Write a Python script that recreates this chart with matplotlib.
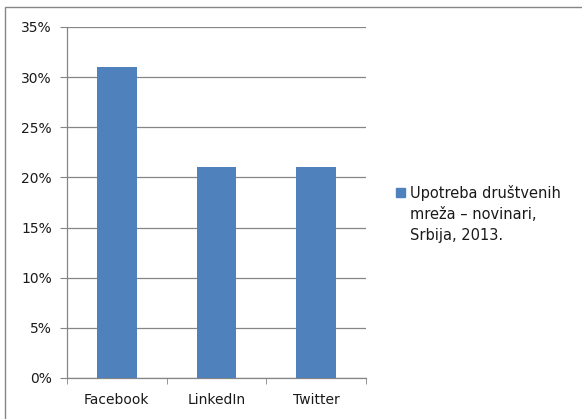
import numpy as np
import matplotlib
matplotlib.use("Agg")
import matplotlib.pyplot as plt
from matplotlib.patches import Rectangle

categories = ["Facebook", "LinkedIn", "Twitter"]
values = [31, 21, 21]
series_label = "Upotreba društvenih\nmreža – novinari,\nSrbija, 2013."
yticks = [0, 5, 10, 15, 20, 25, 30, 35]

plt.rcParams['font.family'] = ['DejaVu Sans']
grid_c = "#868686"
text_c = "#1a1a1a"

fig = plt.figure(figsize=(5.82, 4.19), dpi=100)
ax = fig.add_axes([0.1151, 0.0979, 0.5137, 0.8377])

x = np.arange(len(categories))
ax.bar(x, values, width=0.4, color="#4F81BD", zorder=3)

ax.set_xlim(-0.5, len(categories) - 0.5)
ax.set_ylim(0, 35)
ax.set_yticks(yticks)
ax.set_yticklabels([f"{t}%" for t in yticks], fontsize=10, color=text_c)
ax.yaxis.grid(True, color=grid_c, linewidth=0.9, zorder=0)

ax.set_xticks(x)
ax.set_xticklabels(categories, fontsize=10, color=text_c)
ax.tick_params(axis="x", length=0, pad=11)
ax.set_xticks(np.arange(-0.5, len(categories)), minor=True)
ax.tick_params(axis="x", which="minor", length=4, color=grid_c, direction="out")
ax.tick_params(axis="y", length=5, color=grid_c, direction="out", pad=6)

for s in ["top", "right"]:
    ax.spines[s].set_visible(False)
for s in ["left", "bottom"]:
    ax.spines[s].set_color(grid_c)
    ax.spines[s].set_linewidth(0.9)

# legend
fig.patches.append(Rectangle((396 / 582, 1 - 197 / 419), 9 / 582, 9 / 419,
                             transform=fig.transFigure, color="#4F81BD"))
fig.text(410 / 582, 1 - 240 / 419, series_label, fontsize=10.5, va="baseline",
         ha="left", linespacing=1.5, color=text_c)

# outer frame
fig.patches.append(Rectangle((5 / 582, -0.1), 1.2, 1 - 7 / 419 + 0.1,
                             transform=fig.transFigure, fill=False,
                             edgecolor=grid_c, linewidth=1.0))

fig.savefig("out.png", dpi=100)
